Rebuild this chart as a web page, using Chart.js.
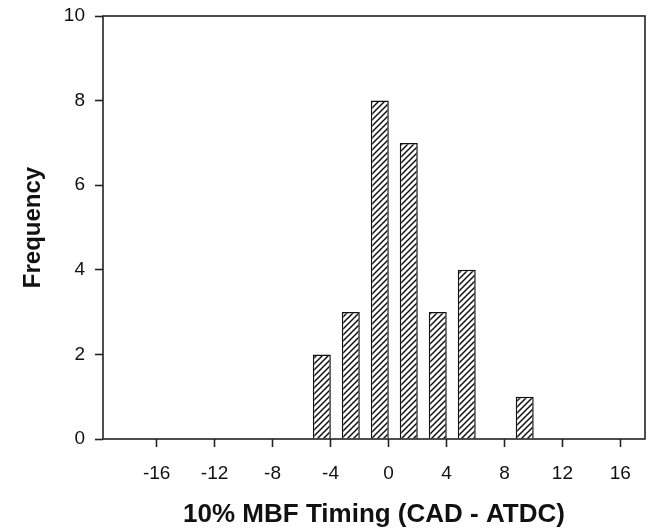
<!DOCTYPE html>
<html>
<head>
<meta charset="utf-8">
<script src="https://cdn.jsdelivr.net/npm/chart.js@4/dist/chart.umd.min.js"></script>
<style>
  html, body { margin: 0; padding: 0; background: #fff; }
</style>
</head>
<body>
<canvas id="histChart" width="656" height="532"></canvas>
<script>
// histogram bins (bin centre, deg) and counts
var binCentres = [-4.6, -2.6, -0.6, 1.4, 3.4, 5.4, 9.4]
var counts = [2, 3, 8, 7, 3, 4, 1]
var xTicks = [-16, -12, -8, -4, 0, 4, 8, 12, 16]
var yTicks = [0, 2, 4, 6, 8, 10]

// diagonal hatch fill for the bars
function makeHatch() {
    var c = document.createElement('canvas')
    c.width = 6
    c.height = 6
    var g = c.getContext('2d')
    g.fillStyle = '#fff'
    g.fillRect(0, 0, 6, 6)
    g.strokeStyle = '#111'
    g.lineWidth = 1.5
    g.beginPath()
    g.moveTo(-1, 7); g.lineTo(7, -1)
    g.moveTo(-4, 4); g.lineTo(4, -4)
    g.moveTo(2, 10); g.lineTo(10, 2)
    g.stroke()
    return g.createPattern(c, 'repeat')
}

// closed frame round the plot area
var framePlugin = {
    id: 'frame',
    afterDatasetsDraw: function (chart) {
        var a = chart.chartArea
        var ctx = chart.ctx
        ctx.save()
        ctx.strokeStyle = '#222'
        ctx.lineWidth = 1.6
        ctx.strokeRect(a.left, a.top, a.right - a.left, a.bottom - a.top)
        ctx.restore()
    }
}

var points = binCentres.map(function (x, i) { return { x: x, y: counts[i] } })

var tickGrid = { display: true, offset: false, drawOnChartArea: false, drawTicks: true, tickLength: 8, tickColor: '#222', tickWidth: 1.6 }

var ctx = document.getElementById('histChart')
var chart = new Chart(ctx, {
    type: 'bar',
    data: {
        datasets: [{
            data: points,
            backgroundColor: makeHatch(),
            borderColor: '#111',
            borderWidth: 1.5,
            barPercentage: 0.62,
            categoryPercentage: 1
        }]
    },
    options: {
        responsive: false,
        animation: false,
        devicePixelRatio: 1,
        layout: { padding: { top: 16, right: 11, left: 0, bottom: 0 } },
        plugins: { legend: { display: false }, tooltip: { enabled: false } },
        scales: {
            x: {
                type: 'linear',
                min: -19.7,
                max: 17.7,
                offset: false,
                afterBuildTicks: function (s) { s.ticks = xTicks.map(function (v) { return { value: v } }) },
                grid: tickGrid,
                border: { display: false },
                ticks: { color: '#111', font: { family: 'Liberation Sans, Arial', size: 19 }, padding: 15, maxRotation: 0, autoSkip: false },
                title: {
                    display: true,
                    text: '10% MBF Timing (CAD - ATDC)',
                    color: '#111',
                    font: { family: 'Liberation Sans, Arial', size: 26, weight: 'bold' },
                    padding: { top: 10, bottom: 2 }
                },
                afterFit: function (s) { s.height = 93; s.paddingLeft = 0; s.paddingRight = 0 }
            },
            y: {
                min: 0,
                max: 10,
                afterBuildTicks: function (s) { s.ticks = yTicks.map(function (v) { return { value: v } }) },
                grid: tickGrid,
                border: { display: false },
                ticks: { color: '#111', font: { family: 'Liberation Sans, Arial', size: 19 }, padding: 10, autoSkip: false },
                title: {
                    display: true,
                    text: 'Frequency',
                    color: '#111',
                    font: { family: 'Liberation Sans, Arial', size: 24, weight: 'bold' },
                    padding: { top: 19, bottom: 0 }
                },
                afterFit: function (s) { s.width = 103; s.paddingTop = 0; s.paddingBottom = 0 }
            }
        }
    },
    plugins: [framePlugin]
})
</script>
</body>
</html>
